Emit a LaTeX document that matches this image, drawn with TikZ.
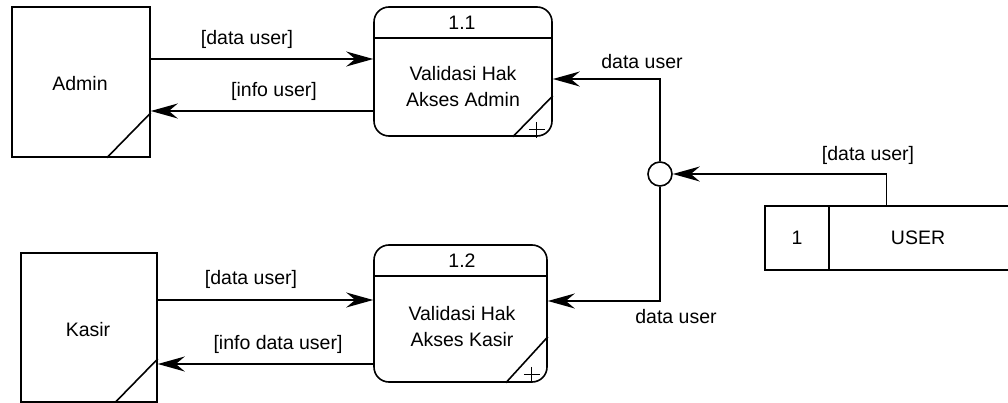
\documentclass[tikz,border=0pt]{standalone}
\usepackage{fontspec}
\setmainfont{Liberation Sans}
\usetikzlibrary{arrows.meta,positioning}
\tikzset{
    ent/.style={draw, line width=1.6pt, inner sep=0pt},
    proc/.style={draw, line width=1.6pt, rounded corners=15pt, inner sep=0pt},
    junct/.style={circle, draw, line width=1.6pt, minimum size=24pt, inner sep=0pt},
    lbl/.style={inner sep=1pt, font=\fontsize{19.5}{26}\selectfont, align=center},
    flow/.style={line width=1.6pt, -{Stealth[length=27pt,width=15pt,inset=9pt]}}
}

\begin{document}
\begin{tikzpicture}[x=1pt,y=-1pt]
\useasboundingbox (0,0) rectangle (1008,403);
% external entities
\node[ent, minimum width=138pt, minimum height=150pt] (admin) at (81,82) {};
\node[ent, minimum width=136pt, minimum height=149pt] (kasir) at (89,327.5) {};
\node[lbl] (adminT) at (80,84) {Admin};
\node[lbl] (kasirT) at (88,330) {Kasir};
\draw[line width=1.6pt] (admin.south east) ++(0,-45) -- ++(-44,45);
\draw[line width=1.6pt] (kasir.south east) ++(0,-44) -- ++(-43,44);
% processes
\node[proc, minimum width=178pt, minimum height=129pt] (p1) at (463,71.5) {};
\node[proc, minimum width=173pt, minimum height=137pt] (p2) at (460.5,313.5) {};
\draw[line width=1.6pt] (p1.west |- 0,38) -- (p1.east |- 0,38);
\draw[line width=1.6pt] (p2.west |- 0,276) -- (p2.east |- 0,276);
\node[lbl] (p1N) at (462,23) {1.1};
\node[lbl] (p2N) at (462,261) {1.2};
\node[lbl] (p1T) at (463,87) {Validasi Hak\\Akses Admin};
\node[lbl] (p2T) at (462,327) {Validasi Hak\\Akses Kasir};
\draw[line width=1.6pt] (p1.south east) ++(0,-41) -- ++(-40,41);
\draw[line width=1.6pt] (p2.south east) ++(0,-46) -- ++(-42,46);
\draw[line width=1.1pt] (p1.south east) ++(-16,-7) ++(-8,0) -- ++(16,0) ++(-8,-8) -- ++(0,16);
\draw[line width=1.1pt] (p2.south east) ++(-16,-8) ++(-8,0) -- ++(16,0) ++(-8,-8) -- ++(0,16);
% data store
\node[minimum width=243pt, minimum height=64pt, inner sep=0pt] (store) at (886.5,238) {};
\draw[line width=1.6pt] (store.north east) -- (store.north west) -- (store.south west) -- (store.south east);
\draw[line width=1.6pt] (store.north west) ++(64,0) -- ++(0,64);
\node[lbl] (storeId) at (797,238) {1};
\node[lbl] (storeT) at (918,238) {USER};
% junction
\node[junct] (junc) at (660,174) {};
% flows
\draw[flow] (admin.east |- 0,59) -- (p1.west |- 0,59);
\draw[flow] (p1.west |- 0,111) -- (admin.east |- 0,111);
\draw[flow] (kasir.east |- 0,300) -- (p2.west |- 0,300);
\draw[flow] (p2.west |- 0,364) -- (kasir.east |- 0,364);
\draw[flow] (junc.north) |- (p1.east |- 0,79);
\draw[flow] (junc.south) |- (p2.east |- 0,301);
\draw[flow] (store.north) |- (junc.east);
% labels
\node[lbl] (l1) at (247,39) {[data user]};
\node[lbl] (l2) at (274,91) {[info user]};
\node[lbl] (l3) at (251,279) {[data user]};
\node[lbl] (l4) at (278,344) {[info data user]};
\node[lbl] (l5) at (642,62) {data user};
\node[lbl] (l6) at (676,317) {data user};
\node[lbl] (l7) at (868,155) {[data user]};
\end{tikzpicture}
\end{document}
